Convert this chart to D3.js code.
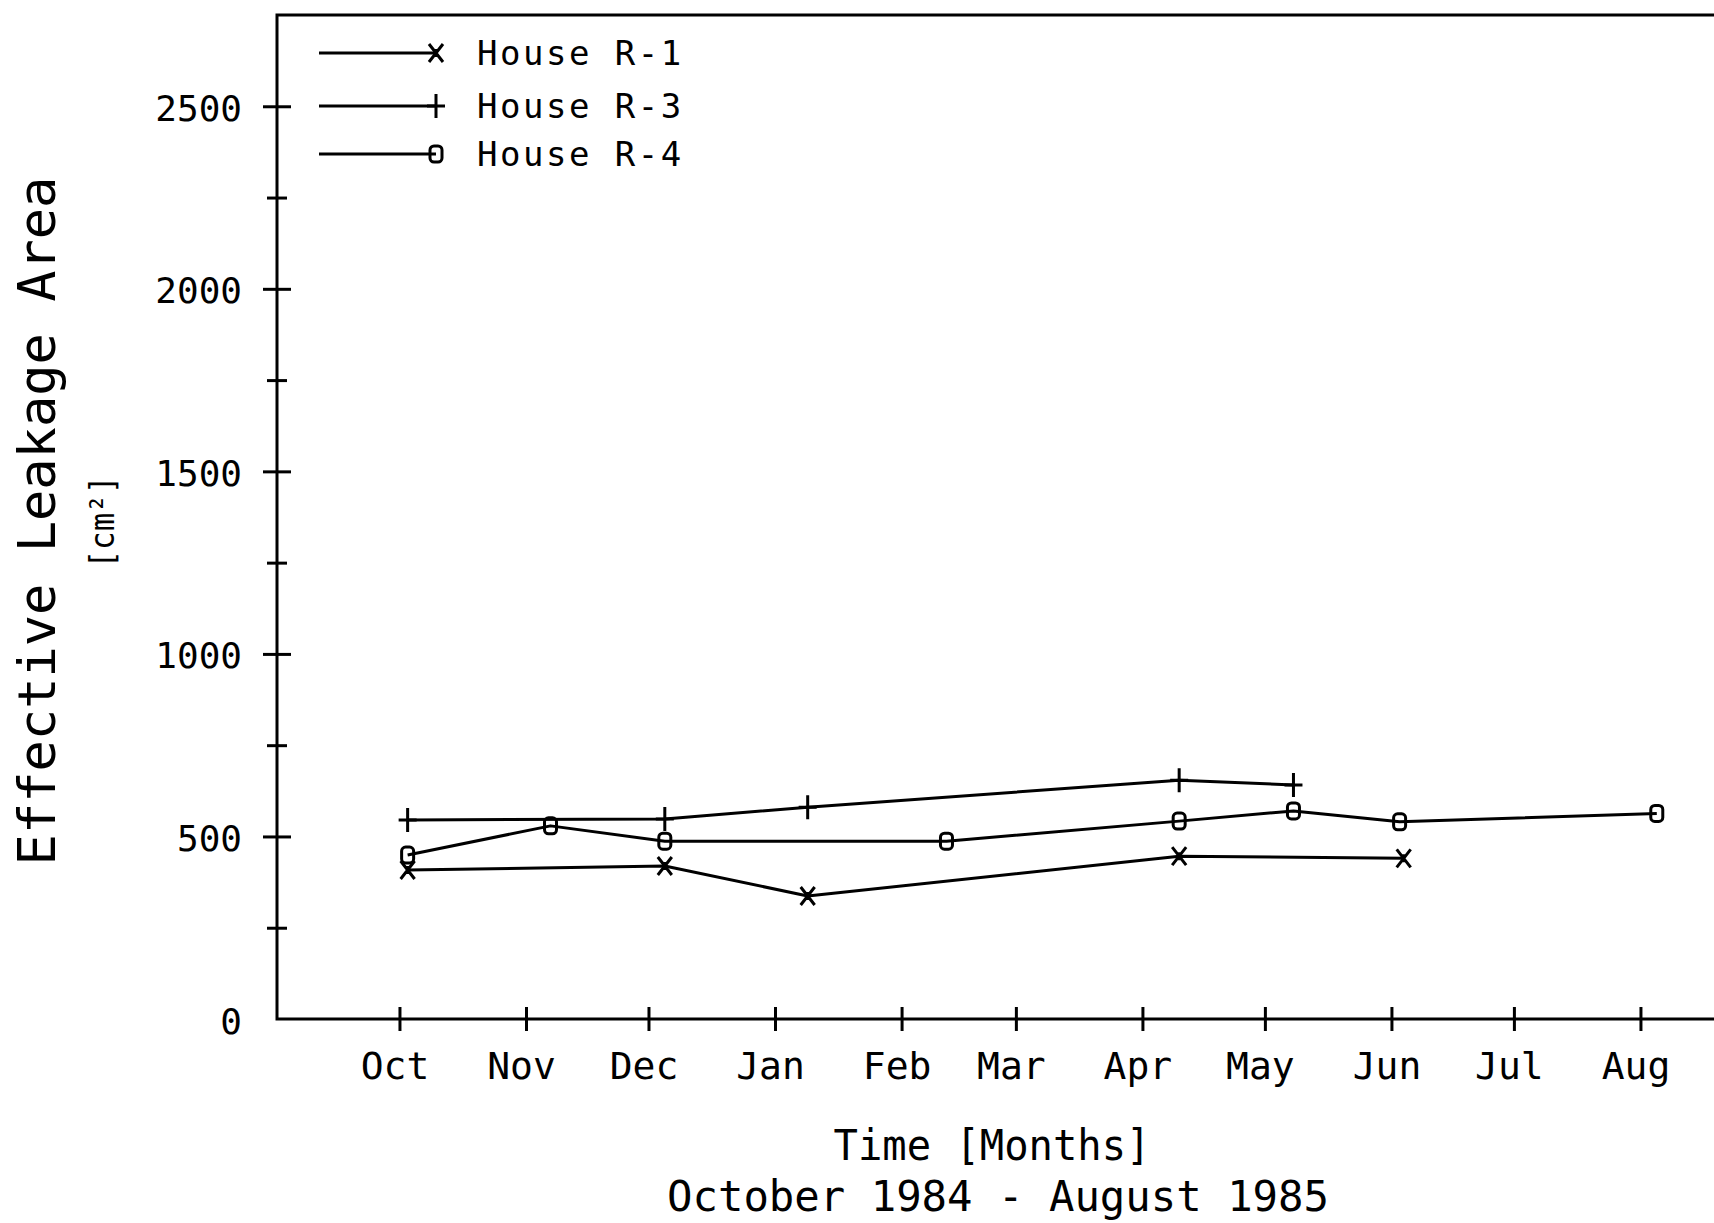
<!DOCTYPE html>
<html>
<head>
<meta charset="utf-8">
<script src="https://cdn.jsdelivr.net/npm/d3@7"></script>
<style>
  html, body { margin: 0; padding: 0; background: #fff; }
  svg { display: block; }
  text { font-family: "DejaVu Sans Mono", monospace; fill: #000; }
</style>
</head>
<body>
<svg id="chart" width="1714" height="1223"></svg>
<script>
// ---- data ----
const monthLabels = ["Oct","Nov","Dec","Jan","Feb","Mar","Apr","May","Jun","Jul","Aug"];
const yMajorTicks = [0, 500, 1000, 1500, 2000, 2500];
const yMinorTicks = [250, 750, 1250, 1750, 2250];

const r1Dates  = ["1984-10-03","1984-12-05","1985-01-09","1985-04-10","1985-06-04"];
const r1Values = [408, 419, 337, 446, 440];

const r3Dates  = ["1984-10-03","1984-12-05","1985-01-09","1985-04-10","1985-05-08"];
const r3Values = [545, 548, 580, 654, 641];

const r4Dates  = ["1984-10-03","1984-11-07","1984-12-05","1985-02-12","1985-04-10","1985-05-08","1985-06-03","1985-08-05"];
const r4Values = [449, 529, 487, 487, 542, 570, 540, 563];

const seriesNames = ["House R-1", "House R-3", "House R-4"];
const seriesMarkers = ["star", "plus", "box"];

// ---- setup ----
const svg = d3.select("#chart");
const W = 1714;
const parse = d3.utcParse("%Y-%m-%d");

const x = d3.scaleUtc()
  .domain([new Date(Date.UTC(1984, 8, 1)), new Date(Date.UTC(1985, 8, 1))])
  .range([277, 1767]);
const y = d3.scaleLinear().domain([0, 2750]).range([1019, 15]);

const x0 = x.range()[0];
const monthDates = monthLabels.map((m, i) => new Date(Date.UTC(1984, 9 + i, 1)));

// frame: left axis, top border, bottom axis
const frame = svg.append("g").attr("stroke", "#000").attr("stroke-width", 3).attr("fill", "none");
frame.append("path")
  .attr("d", `M${W},${y(2750)} L${x0},${y(2750)} L${x0},${y(0)} L${W},${y(0)}`)
  .attr("stroke-linejoin", "miter");

// X axis ticks + labels
const xAxis = d3.axisBottom(x)
  .tickValues(monthDates)
  .tickSize(0)
  .tickFormat((d, i) => monthLabels[i]);
const gx = svg.append("g").attr("transform", `translate(0,${y(0)})`).call(xAxis);
gx.select(".domain").remove();
gx.selectAll(".tick line").attr("y1", -12).attr("y2", 12).attr("stroke", "#000").attr("stroke-width", 3);
gx.selectAll(".tick text")
  .attr("x", -5).attr("y", 60).attr("dy", 0)
  .attr("font-size", 38)
  .attr("font-family", "DejaVu Sans Mono")
  .attr("fill", "#000");

// Y axis major
const yAxisMajor = d3.axisLeft(y)
  .tickValues(yMajorTicks)
  .tickSize(0)
  .tickFormat(d3.format("d"));
const gy = svg.append("g").attr("transform", `translate(${x0},0)`).call(yAxisMajor);
gy.select(".domain").remove();
gy.selectAll(".tick line")
  .attr("x1", d => d === 0 ? 0 : -14).attr("x2", d => d === 0 ? 0 : 14)
  .attr("stroke", "#000").attr("stroke-width", 3);
gy.selectAll(".tick text")
  .attr("x", -35).attr("dy", 14)
  .attr("font-size", 36)
  .attr("font-family", "DejaVu Sans Mono")
  .attr("fill", "#000");

// Y axis minor
const yAxisMinor = d3.axisLeft(y).tickValues(yMinorTicks).tickSize(0).tickFormat("");
const gy2 = svg.append("g").attr("transform", `translate(${x0},0)`).call(yAxisMinor);
gy2.select(".domain").remove();
gy2.selectAll(".tick line").attr("x1", -10).attr("x2", 10).attr("stroke", "#000").attr("stroke-width", 3);

// ---- series ----
const series = [
  { dates: r1Dates, values: r1Values },
  { dates: r3Dates, values: r3Values },
  { dates: r4Dates, values: r4Values }
].map((s, i) => ({
  name: seriesNames[i],
  marker: seriesMarkers[i],
  points: s.dates.map((d, j) => ({ date: parse(d), value: s.values[j] }))
}));

const line = d3.line().x(d => x(d.date)).y(d => y(d.value));

function drawMarker(g, type, cx, cy) {
  const m = g.append("g").attr("transform", `translate(${cx},${cy})`)
    .attr("stroke", "#000").attr("stroke-width", 3).attr("fill", "none");
  if (type === "star") {
    m.append("path").attr("d", "M-7,-9 L7,9 M7,-9 L-7,9 M0,-4 L0,4");
  } else if (type === "plus") {
    m.append("path").attr("d", "M0,-12 L0,12 M-9,0 L9,0");
  } else {
    m.append("rect").attr("x", -6).attr("y", -8).attr("width", 12).attr("height", 16).attr("rx", 4);
  }
}

const gData = svg.append("g");
series.forEach(s => {
  gData.append("path")
    .datum(s.points)
    .attr("d", line)
    .attr("fill", "none")
    .attr("stroke", "#000")
    .attr("stroke-width", 3)
    .attr("stroke-linejoin", "round");
  s.points.forEach(p => drawMarker(gData, s.marker, x(p.date), y(p.value)));
});

// ---- legend ----
const legendY = [53, 106, 154];
const gLeg = svg.append("g");
series.forEach((s, i) => {
  gLeg.append("line")
    .attr("x1", 319).attr("x2", 436)
    .attr("y1", legendY[i]).attr("y2", legendY[i])
    .attr("stroke", "#000").attr("stroke-width", 3);
  drawMarker(gLeg, s.marker, 436, legendY[i]);
  gLeg.append("text")
    .attr("x", 477).attr("y", legendY[i] + 12)
    .attr("font-size", 34)
    .attr("letter-spacing", 2.5)
    .text(s.name);
});

// ---- axis titles ----
svg.append("text")
  .attr("transform", "translate(55,521) rotate(-90)")
  .attr("text-anchor", "middle")
  .attr("font-size", 52)
  .text("Effective Leakage Area");

svg.append("text")
  .attr("transform", "translate(114,522) rotate(-90)")
  .attr("text-anchor", "middle")
  .attr("font-size", 34)
  .attr("textLength", 93)
  .attr("lengthAdjust", "spacingAndGlyphs")
  .text("[cm²]");

svg.append("text")
  .attr("x", 992).attr("y", 1160)
  .attr("text-anchor", "middle")
  .attr("font-size", 42)
  .attr("textLength", 317)
  .attr("lengthAdjust", "spacingAndGlyphs")
  .text("Time [Months]");

svg.append("text")
  .attr("x", 998).attr("y", 1211)
  .attr("text-anchor", "middle")
  .attr("font-size", 42)
  .attr("textLength", 662)
  .attr("lengthAdjust", "spacingAndGlyphs")
  .text("October 1984 - August 1985");
</script>
</body>
</html>
